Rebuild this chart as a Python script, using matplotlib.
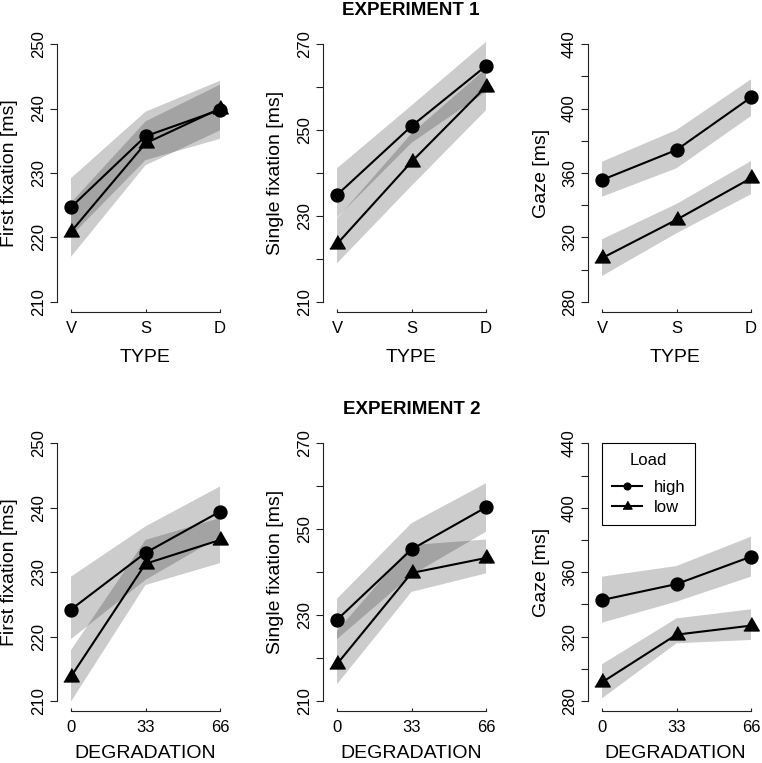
import matplotlib
matplotlib.use('Agg')
import matplotlib.pyplot as plt
from matplotlib.lines import Line2D
import numpy as np

plt.rcParams['font.family'] = ['Liberation Sans', 'DejaVu Sans']

# ---------------- data ----------------
type_labels = ['V', 'S', 'D']
degr_labels = ['0', '33', '66']
load_labels = ['high', 'low']
measure_labels = ['First fixation [ms]', 'Single fixation [ms]', 'Gaze [ms]']

# y-axis ticks / labels per measure
ff_ticks = [210, 220, 230, 240, 250]
ff_ticklabels = ['210', '220', '230', '240', '250']
sf_ticks = [210, 220, 230, 240, 250, 260, 270]
sf_ticklabels = ['210', '', '230', '', '250', '', '270']
gz_ticks = [280, 300, 320, 340, 360, 380, 400, 420, 440]
gz_ticklabels = ['280', '', '320', '', '360', '', '400', '', '440']

# Experiment 1 - First fixation
e1_ff_high = [224.7, 235.7, 239.8]
e1_ff_low = [220.9, 234.6, 240.0]
e1_ff_high_lo = [220.2, 232.0, 235.3]
e1_ff_high_hi = [229.2, 239.5, 244.3]
e1_ff_low_lo = [217.0, 231.2, 236.6]
e1_ff_low_hi = [225.4, 238.0, 243.7]

# Experiment 1 - Single fixation
e1_sf_high = [234.9, 250.9, 264.9]
e1_sf_low = [223.5, 242.6, 260.1]
e1_sf_high_lo = [229.6, 247.0, 258.9]
e1_sf_high_hi = [241.1, 255.7, 270.5]
e1_sf_low_lo = [219.0, 237.0, 254.6]
e1_sf_low_hi = [229.4, 249.2, 264.3]

# Experiment 1 - Gaze
e1_gz_high = [355.7, 374.3, 406.9]
e1_gz_low = [307.2, 331.0, 356.8]
e1_gz_high_lo = [345.3, 362.9, 395.3]
e1_gz_high_hi = [367.0, 386.7, 418.1]
e1_gz_low_lo = [296.1, 322.6, 346.8]
e1_gz_low_hi = [318.9, 340.8, 367.4]

# Experiment 2 - First fixation
e2_ff_high = [224.2, 233.0, 239.4]
e2_ff_low = [213.8, 231.3, 235.0]
e2_ff_high_lo = [219.6, 228.8, 235.5]
e2_ff_high_hi = [229.3, 237.1, 243.3]
e2_ff_low_lo = [209.9, 228.0, 231.4]
e2_ff_low_hi = [217.9, 235.0, 238.4]

# Experiment 2 - Single fixation
e2_sf_high = [228.9, 245.3, 255.1]
e2_sf_low = [218.6, 239.8, 243.3]
e2_sf_high_lo = [224.4, 239.3, 249.4]
e2_sf_high_hi = [233.8, 251.4, 260.7]
e2_sf_low_lo = [213.9, 235.4, 239.7]
e2_sf_low_hi = [226.3, 246.3, 247.6]

# Experiment 2 - Gaze
e2_gz_high = [342.7, 352.6, 369.6]
e2_gz_low = [291.6, 321.2, 326.8]
e2_gz_high_lo = [328.6, 341.7, 357.2]
e2_gz_high_hi = [357.2, 363.8, 382.0]
e2_gz_low_lo = [281.6, 315.8, 317.9]
e2_gz_low_hi = [302.8, 331.3, 336.9]

# ---------------- layout helpers ----------------
FW, FH = 762, 763
fig = plt.figure(figsize=(FW / 100, FH / 100), dpi=100)

# R-style filled triangle (centroid at the data point)
R_TRI = [(0, 1.5551), (1.3468, -0.7776), (-1.3468, -0.7776)]

col_left = [57, 323, 588]
col_width = [177, 177, 174]
row_top = [33.7, 433.0]
row_height = [278.6, 278.3]
row_xlabel_offset = [45, 42]
PX_PER_UNIT = 74.5

measure_cfg = [
    (ff_ticks, ff_ticklabels, (208.4, 251.6)),
    (sf_ticks, sf_ticklabels, (207.6, 272.4)),
    (gz_ticks, gz_ticklabels, (273.6, 446.4)),
]

panels = [
    [
        (e1_ff_high, e1_ff_low, e1_ff_high_lo, e1_ff_high_hi, e1_ff_low_lo, e1_ff_low_hi),
        (e1_sf_high, e1_sf_low, e1_sf_high_lo, e1_sf_high_hi, e1_sf_low_lo, e1_sf_low_hi),
        (e1_gz_high, e1_gz_low, e1_gz_high_lo, e1_gz_high_hi, e1_gz_low_lo, e1_gz_low_hi),
    ],
    [
        (e2_ff_high, e2_ff_low, e2_ff_high_lo, e2_ff_high_hi, e2_ff_low_lo, e2_ff_low_hi),
        (e2_sf_high, e2_sf_low, e2_sf_high_lo, e2_sf_high_hi, e2_sf_low_lo, e2_sf_low_hi),
        (e2_gz_high, e2_gz_low, e2_gz_high_lo, e2_gz_high_hi, e2_gz_low_lo, e2_gz_low_hi),
    ],
]
row_xticklabels = [type_labels, degr_labels]
row_xlabel = ['TYPE', 'DEGRADATION']

axes = []
for r in range(2):
    for c in range(3):
        L, W = col_left[c], col_width[c]
        T, H = row_top[r], row_height[r]
        ax = fig.add_axes([L / FW, 1 - (T + H) / FH, W / FW, H / FH])
        axes.append(ax)
        high, low, hlo, hhi, llo, lhi = panels[r][c]
        yticks, yticklabels, ylim = measure_cfg[c]
        x = np.arange(1, len(high) + 1)

        ax.fill_between(x, hlo, hhi, facecolor='black', alpha=0.2, linewidth=0, edgecolor='none')
        ax.fill_between(x, llo, lhi, facecolor='black', alpha=0.2, linewidth=0, edgecolor='none')
        ax.plot(x, high, color='black', lw=1.5, marker='o', ms=9.3, clip_on=False, zorder=3)
        ax.plot(x, low, color='black', lw=1.5, marker=R_TRI, ms=12.8, clip_on=False, zorder=3)

        xl = 1 - 14 / PX_PER_UNIT
        ax.set_xlim(xl, xl + W / PX_PER_UNIT)
        ax.set_ylim(*ylim)

        for s in ['top', 'right']:
            ax.spines[s].set_visible(False)
        ax.spines['left'].set_bounds(yticks[0], yticks[-1])
        ax.spines['bottom'].set_bounds(1, 3)
        for s in ['left', 'bottom']:
            ax.spines[s].set_linewidth(0.8)
            ax.spines[s].set_color('#222222')

        ax.set_xticks(x)
        ax.set_xticklabels(row_xticklabels[r], fontsize=12)
        ax.set_yticks(yticks)
        ax.set_yticklabels(yticklabels, fontsize=12, rotation=90, va='center')
        ax.tick_params(axis='y', direction='out', length=5, width=0.8, pad=3, color='#222222')
        ax.tick_params(axis='x', direction='in', length=2.5, width=0.8, pad=6.5, color='#222222')

        ax.set_xlabel(row_xlabel[r], fontsize=14)
        ax.xaxis.set_label_coords(0.5, -row_xlabel_offset[r] / H)
        ax.xaxis.label.set_verticalalignment('center')
        ax.set_ylabel(measure_labels[c], fontsize=14)
        ax.yaxis.set_label_coords(-47 / W, 0.5)
        ax.yaxis.label.set_verticalalignment('center')

fig.text(411 / FW, 1 - 10.5 / FH, 'EXPERIMENT 1', ha='center', va='center',
         fontsize=13.5, fontweight='bold')
fig.text(412 / FW, 1 - 410 / FH, 'EXPERIMENT 2', ha='center', va='center',
         fontsize=13.5, fontweight='bold')

handles = [
    Line2D([], [], color='black', lw=1.5, marker='o', ms=4.8),
    Line2D([], [], color='black', lw=1.5, marker=R_TRI, ms=7.5),
]
leg = axes[5].legend(handles, load_labels, title='Load', loc='upper left',
                     bbox_to_anchor=(602 / FW, 1 - 443 / FH), bbox_transform=fig.transFigure,
                     borderaxespad=0, fontsize=12, title_fontsize=12, frameon=True,
                     fancybox=False, framealpha=1, edgecolor='black',
                     borderpad=0.6, labelspacing=0.34, handlelength=1.8, handletextpad=0.7,
                     numpoints=1)
leg.get_frame().set_linewidth(0.8)
# extra gap between the legend title and its entries (as in the original)
leg._legend_box.sep = 0.5 * 12 * 100 / 72

fig.savefig('out.png', dpi=100)
